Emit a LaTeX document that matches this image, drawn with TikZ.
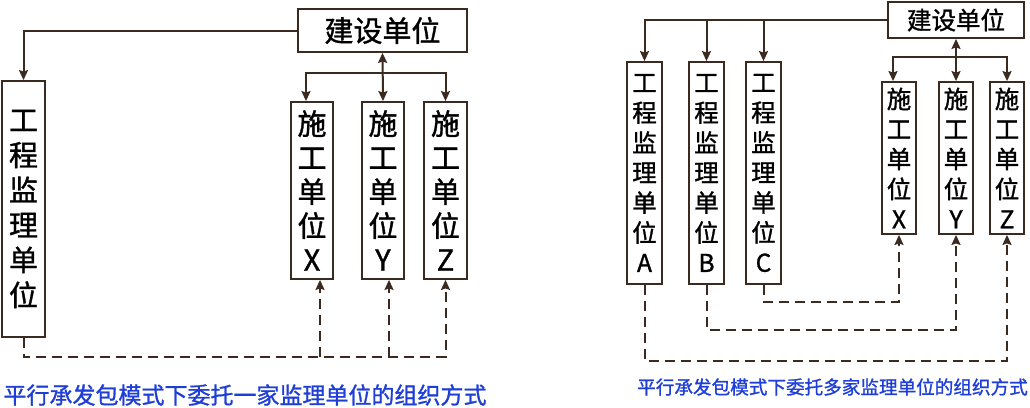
\documentclass[tikz,border=0pt]{standalone}
\usepackage{fontspec}
\setmainfont{Noto Sans CJK SC}[FakeBold=1.2]
\usetikzlibrary{arrows.meta}
\definecolor{ln}{RGB}{58,42,32}
\definecolor{cap}{RGB}{30,62,215}
\begin{document}
\begin{tikzpicture}[x=1pt,y=-1pt,
 box/.style={draw=ln,line width=1.8pt,inner sep=0pt,align=center,text=black},
 conn/.style={draw=ln,line width=2pt},
 tip/.tip={Stealth[length=10pt,width=9pt,inset=1.5pt]},
 arr/.style={conn,-tip},
 darr/.style={conn,tip-tip},
 dsh/.style={conn,dash pattern=on 10pt off 6pt,-tip},
 big/.style={font=\fontsize{29}{35}\selectfont},
 bigs/.style={font=\fontsize{29}{34}\selectfont},
 sml/.style={font=\fontsize{24.5}{30}\selectfont},
 capt/.style={text=cap,inner sep=0pt}
]
\useasboundingbox (0,0) rectangle (1030,407);
% ---------- left diagram ----------
\node[box,big,minimum width=169pt,minimum height=43pt] (js1) at (382.5,30.5) {建设单位};
\node[box,big,minimum width=43pt,minimum height=256pt] (jl1) at (23.5,209) {工\\程\\监\\理\\单\\位};
\node[box,bigs,minimum width=42pt,minimum height=177pt] (sx1) at (312,190.5) {施\\工\\单\\位\\X};
\node[box,bigs,minimum width=42pt,minimum height=177pt] (sy1) at (383,190.5) {施\\工\\单\\位\\Y};
\node[box,bigs,minimum width=43pt,minimum height=177pt] (sz1) at (445.5,190.5) {施\\工\\单\\位\\Z};
\coordinate (b1) at (383,73);
\coordinate (dl1) at (0,357);
\draw[arr] (js1.west) -| (jl1.north);
\draw[darr] (js1.south) -- (sy1.north);
\draw[arr] (b1) -| ([xshift=-6pt]sx1.north);
\draw[arr] (b1) -| (sz1.north);
\draw[dsh] (jl1.south) |- (sz1.south |- dl1) -- (sz1.south);
\draw[dsh] ([xshift=8pt]sx1.south |- dl1) -- ([xshift=8pt]sx1.south);
\draw[dsh] ([xshift=6pt]sy1.south |- dl1) -- ([xshift=6pt]sy1.south);
\node[capt,font=\fontsize{23}{23}\selectfont] (cap1) at (245,395) {平行承发包模式下委托一家监理单位的组织方式};
% ---------- right diagram ----------
\node[box,sml,minimum width=136pt,minimum height=36pt] (js2) at (956,20) {建设单位};
\node[box,sml,minimum width=35pt,minimum height=222pt] (jA) at (644.5,173) {工\\程\\监\\理\\单\\位\\A};
\node[box,sml,minimum width=35pt,minimum height=222pt] (jB) at (706.5,173) {工\\程\\监\\理\\单\\位\\B};
\node[box,sml,minimum width=35pt,minimum height=222pt] (jC) at (763.5,173) {工\\程\\监\\理\\单\\位\\C};
\node[box,sml,minimum width=34pt,minimum height=152pt] (sX2) at (899,158) {施\\工\\单\\位\\X};
\node[box,sml,minimum width=34pt,minimum height=152pt] (sY2) at (956,158) {施\\工\\单\\位\\Y};
\node[box,sml,minimum width=34pt,minimum height=152pt] (sZ2) at (1007,158) {施\\工\\单\\位\\Z};
\coordinate (b2) at (956,57);
\draw[arr] (js2.west) -| (jA.north);
\draw[arr] (jB.north |- js2.west) -- (jB.north);
\draw[arr] (jC.north |- js2.west) -- (jC.north);
\draw[darr] (js2.south) -- (sY2.north);
\draw[arr] (b2) -| ([xshift=-6pt]sX2.north);
\draw[arr] (b2) -| (sZ2.north);
\draw[dsh] (jC.south) -- ++(0,17) -| (sX2.south);
\draw[dsh] (jB.south) -- ++(0,45) -| (sY2.south);
\draw[dsh] (jA.south) -- ++(0,76) -| (sZ2.south);
\node[capt,font=\fontsize{18.6}{18.6}\selectfont] (cap2) at (832.5,387) {平行承发包模式下委托多家监理单位的组织方式};
\end{tikzpicture}
\end{document}
